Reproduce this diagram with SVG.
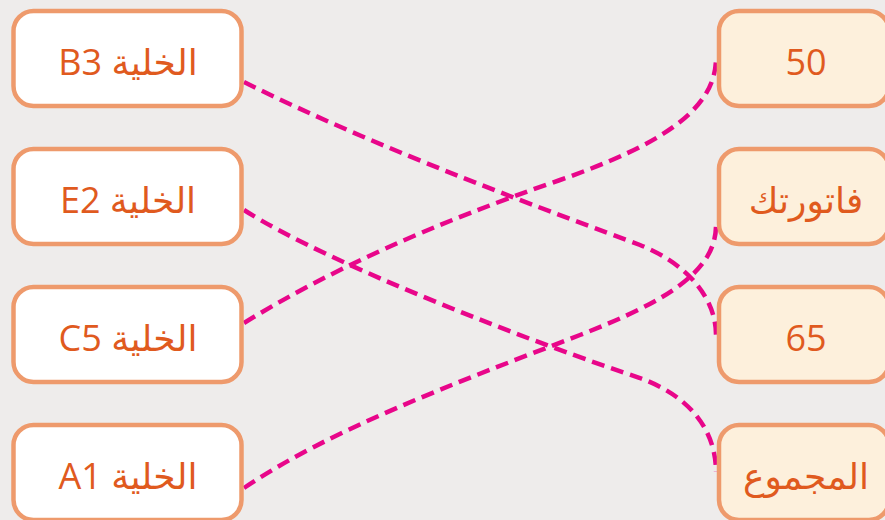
<svg xmlns="http://www.w3.org/2000/svg" width="885" height="520" viewBox="0 0 885 520">
<style>
.bg{fill:#eeeceb}
.l{fill:#ffffff;stroke:#ee9a6c;stroke-width:4.5}
.r{fill:#fdf0dc;stroke:#ee9a6c;stroke-width:4.5}
.t{font-family:"Open Sans","DejaVu Sans",sans-serif;font-size:36px;fill:#e05a1e;text-anchor:middle}
.c{fill:none;stroke:#e8068a;stroke-width:4.5;stroke-dasharray:13 7;stroke-linecap:butt}
</style>
<rect class="bg" x="0" y="0" width="885" height="520"/>
<g id="connectors">
<path class="c" d="M244,82 C380,150 560,215 640,245 C690,265 716,300 716,335"/>
<path class="c" d="M244,210 C330,265 540,345 640,378 C700,400 716,440 716,472"/>
<path class="c" d="M244,323 C330,270 430,225 560,180 C660,145 716,110 716,58"/>
<path class="c" d="M244,488 C330,430 450,385 580,335 C670,300 716,270 716,225"/>
</g>
<g id="left-b3"><rect class="l" x="13.5" y="11" width="228" height="95" rx="20"/><text class="t" x="128" y="75" direction="rtl">الخلية B3</text></g>
<g id="left-e2"><rect class="l" x="13.5" y="149" width="228" height="95" rx="20"/><text class="t" x="128" y="213" direction="rtl">الخلية E2</text></g>
<g id="left-c5"><rect class="l" x="13.5" y="287" width="228" height="95" rx="20"/><text class="t" x="128" y="351" direction="rtl">الخلية C5</text></g>
<g id="left-a1"><rect class="l" x="13.5" y="425" width="228" height="95" rx="20"/><text class="t" x="128" y="489" direction="rtl">الخلية A1</text></g>
<g id="right-50"><rect class="r" x="719" y="11" width="170" height="95" rx="20"/><text class="t" x="806" y="75">50</text></g>
<g id="right-fatoratak"><rect class="r" x="719" y="149" width="170" height="95" rx="20"/><text class="t" x="806" y="213" direction="rtl">فاتورتك</text></g>
<g id="right-65"><rect class="r" x="719" y="287" width="170" height="95" rx="20"/><text class="t" x="806" y="351">65</text></g>
<g id="right-total"><rect class="r" x="719" y="425" width="170" height="95" rx="20"/><text class="t" x="806" y="489" direction="rtl">المجموع</text></g>
</svg>
